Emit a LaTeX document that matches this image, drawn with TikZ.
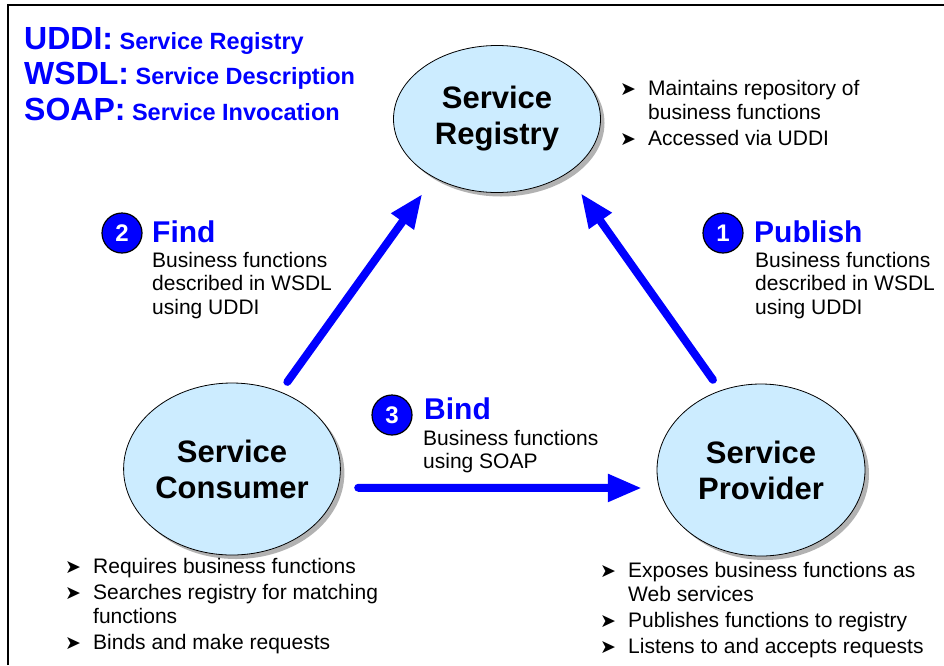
\documentclass[tikz,border=0pt]{standalone}
\usepackage{fontspec}
\setmainfont{Liberation Sans}
\newfontfamily\symfont{DejaVu Sans}
\definecolor{soablue}{RGB}{0,0,255}
\definecolor{soafill}{RGB}{204,236,255}
\usetikzlibrary{arrows.meta,shapes.geometric,shadows}
\newcommand{\bul}{\makebox[28pt][l]{\symfont\fontsize{19}{19}\selectfont ➤}}
\newcommand{\ind}{\hspace*{28pt}}

\begin{document}
\begin{tikzpicture}[x=1pt,y=-1pt,
  role/.style={ellipse,draw,line width=0.8pt,fill=soafill,minimum width=208pt,minimum height=172pt,
    inner sep=0pt,font=\fontsize{31}{36}\selectfont\bfseries,align=center,
    drop shadow={shadow xshift=4pt,shadow yshift=-4pt,fill=black!30,opacity=1}},
  flow/.style={-{Triangle[length=34pt,width=26pt]},line width=8pt,soablue,line cap=round},
  num/.style={circle,draw,line width=1.2pt,fill=soablue,text=white,minimum size=40pt,inner sep=0pt,
    font=\fontsize{24}{24}\selectfont\bfseries},
  act/.style={anchor=base west,inner sep=0pt,text=soablue,font=\fontsize{30}{30}\selectfont\bfseries},
  key/.style={anchor=base west,inner sep=0pt,text=soablue,font=\fontsize{23.5}{23.5}\selectfont\bfseries},
  desc/.style={anchor=north west,inner sep=0pt,align=left,font=\fontsize{21}{23.5}\selectfont},
  list/.style={desc,font=\fontsize{21}{24}\selectfont}
]
  \useasboundingbox (0,0) rectangle (944,665);
  \draw[line width=1.5pt] (8,665) -- (8,5) -- (944,5);

  % Standards
  \foreach \y/\abbr/\role in {49/UDDI/Service Registry, 84.5/WSDL/Service Description, 120/SOAP/Service Invocation} {
    \node[key] (key\abbr) at (24,\y) {{\fontsize{32}{32}\selectfont\abbr:} \role};
  }

  % Roles
  \node[role,minimum width=207pt,minimum height=147pt] (registry) at (497,119) {Service\\Registry};
  \node[role] (consumer) at (232,469) {Service\\Consumer};
  \node[role] (provider) at (761,470) {Service\\Provider};

  % Operations
  \draw[flow,shorten <=12pt,shorten >=20pt] (consumer.58) -- (registry.223);
  \draw[flow,shorten <=13pt,shorten >=24pt] (provider.117) -- (registry.322);
  \draw[flow,shorten <=20pt,shorten >=17pt] (consumer.-10) -- (provider.190);

  \node[num] (n1) at (723,233) {1};
  \node[act] (publish) at (754,242) {Publish};
  \node[desc] (publishtxt) at (755,252) {Business functions\\described in WSDL\\using UDDI};

  \node[num] (n2) at (122,233) {2};
  \node[act] (find) at (152,242) {Find};
  \node[desc] (findtxt) at (152,252) {Business functions\\described in WSDL\\using UDDI};

  \node[num] (n3) at (392,415) {3};
  \node[act] (bind) at (424,419) {Bind};
  \node[desc] (bindtxt) at (423,430) {Business functions\\using SOAP};

  % Notes
  \node[list] (reglist) at (620,80) {\bul Maintains repository of\\\ind business functions\\[2pt]\bul Accessed via UDDI};
  \node[list] (conlist) at (65,558) {\bul Requires business functions\\[2pt]\bul Searches registry for matching\\\ind functions\\[2pt]\bul Binds and make requests};
  \node[list] (provlist) at (600,562) {\bul Exposes business functions as\\\ind Web services\\[2pt]\bul Publishes functions to registry\\[2pt]\bul Listens to and accepts requests};
\end{tikzpicture}
\end{document}
